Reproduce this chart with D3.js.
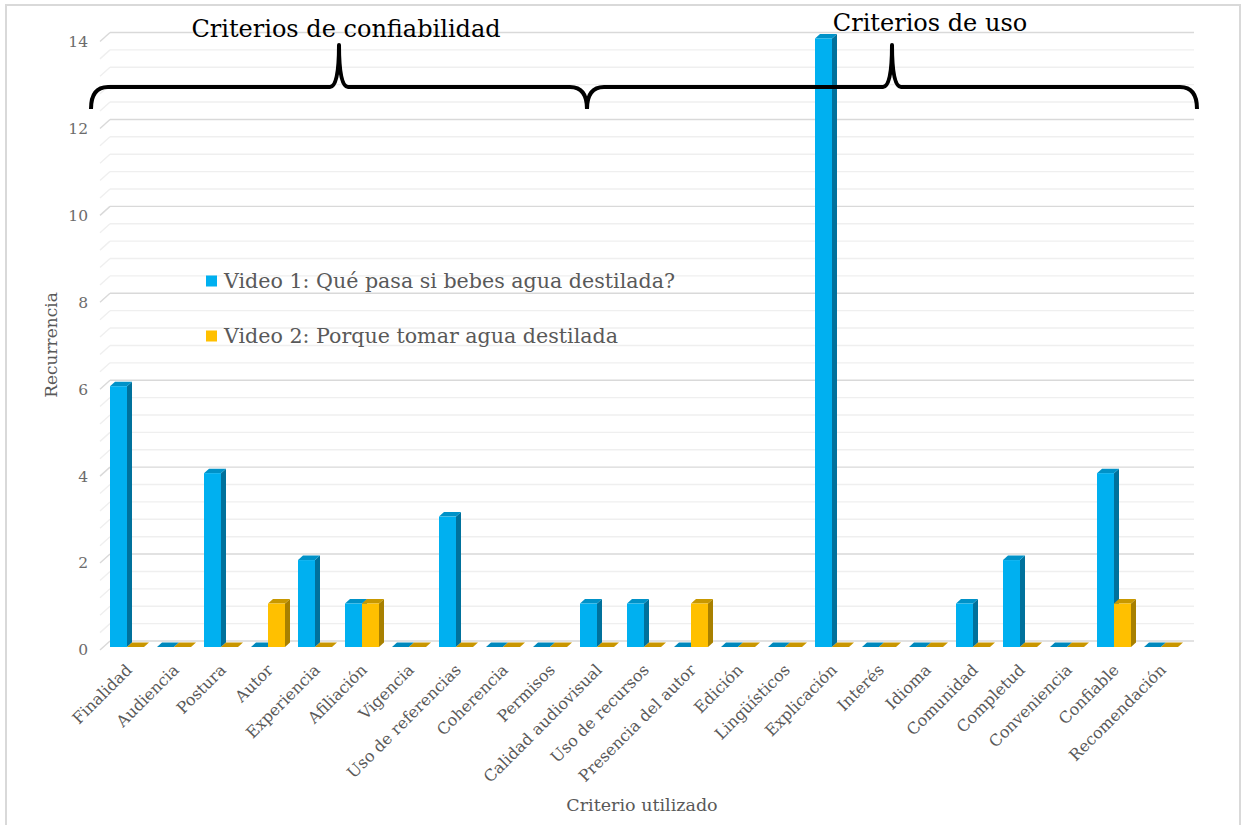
<!DOCTYPE html>
<html>
<head>
<meta charset="utf-8">
<script src="https://cdn.jsdelivr.net/npm/d3@7"></script>
<style>
  html, body { margin: 0; padding: 0; background: #fff; }
  svg { display: block; font-family: "DejaVu Serif", serif; }
</style>
</head>
<body>
<svg id="chart" width="1246" height="825"></svg>
<script>
// Criteria evaluated in each video
const categories = [
  "Finalidad", "Audiencia", "Postura", "Autor", "Experiencia", "Afiliación",
  "Vigencia", "Uso de referencias", "Coherencia", "Permisos",
  "Calidad audiovisual", "Uso de recursos", "Presencia del autor", "Edición",
  "Lingüísticos", "Explicación", "Interés", "Idioma", "Comunidad",
  "Completud", "Conveniencia", "Confiable", "Recomendación"
];
const seriesNames = [
  "Video 1: Qué pasa si bebes agua destilada?",
  "Video 2: Porque tomar agua destilada"
];
const video1 = [6, 0, 4, 0, 2, 1, 0, 3, 0, 0, 1, 1, 0, 0, 0, 14, 0, 0, 1, 2, 0, 4, 0];
const video2 = [0, 0, 0, 1, 0, 1, 0, 0, 0, 0, 0, 0, 1, 0, 0, 0, 0, 0, 0, 0, 0, 1, 0];
const yTicks = [0, 2, 4, 6, 8, 10, 12, 14];
const groups = [
  { label: "Criterios de confiabilidad", from: "Finalidad", to: "Calidad audiovisual" },
  { label: "Criterios de uso", from: "Calidad audiovisual", to: "Recomendación" }
];

const palette = [
  { front: "#00b0f0", side: "#00719c", top: "#0092c8", flat: "#0089bd" },
  { front: "#ffc000", side: "#a88000", top: "#c89800", flat: "#c99600" }
];

const svg = d3.select("#chart");

// frame
svg.append("rect").attr("x", 6).attr("y", 5).attr("width", 1234).attr("height", 830)
  .attr("fill", "none").attr("stroke", "#d9d9d9").attr("stroke-width", 2);

// scales
const x = d3.scaleBand().domain(categories).range([103.5, 1184.5]).padding(0);
const xs = d3.scaleBand().domain([0, 1]).range([6.5, 40.5]).padding(0);
const y = d3.scaleLinear().domain([0, 14]).range([647, 38.5]);

// wall depth (front edge -> back wall)
const wallFront = { x: 100, dy: 3 };
const wallBack = { x: 110, dy: -6, x2: 1194 };
// bar depth
const bdx = 5, bdy = -4.5;

// gridlines every 0.4, darker every 2
const gridVals = d3.range(36).map(i => +(i * 0.4).toFixed(1));
const grid = svg.append("g");
gridVals.forEach((v, i) => {
  const major = i % 5 === 0;
  const col = major ? "#d9d9d9" : "#efefef";
  const yy = y(v);
  grid.append("line")
    .attr("x1", wallFront.x).attr("y1", yy + wallFront.dy)
    .attr("x2", wallBack.x).attr("y2", yy + wallBack.dy)
    .attr("stroke", col).attr("stroke-width", 1.4);
  grid.append("line")
    .attr("x1", wallBack.x).attr("y1", yy + wallBack.dy)
    .attr("x2", wallBack.x2).attr("y2", yy + wallBack.dy)
    .attr("stroke", col).attr("stroke-width", 1.4);
});

// y tick labels
svg.append("g").selectAll("text").data(yTicks).join("text")
  .attr("x", 88).attr("y", d => y(d) + wallFront.dy)
  .attr("dy", "0.35em")
  .attr("text-anchor", "end")
  .attr("fill", "#6b6b6b")
  .attr("font-size", 15.5)
  .text(d => d);

// y axis title
svg.append("text")
  .attr("transform", "translate(57,345) rotate(-90)")
  .attr("text-anchor", "middle")
  .attr("fill", "#595959")
  .attr("font-size", 17)
  .text("Recurrencia");

// 3D bars
const barsG = svg.append("g");
const seriesData = [video1, video2];
categories.forEach((c, ci) => {
  [0, 1].forEach(si => {
    const v = seriesData[si][ci];
    const x0 = x(c) + xs(si);
    const x1 = x0 + xs.bandwidth();
    const yb = y(0);
    const yt = y(v);
    const p = palette[si];
    if (v === 0) {
      barsG.append("path")
        .attr("d", `M${x0},${yb}L${x1},${yb}L${x1 + bdx},${yb + bdy}L${x0 + bdx},${yb + bdy}Z`)
        .attr("fill", p.flat);
      return;
    }
    // side
    barsG.append("path")
      .attr("d", `M${x1},${yt}L${x1 + bdx},${yt + bdy}L${x1 + bdx},${yb + bdy}L${x1},${yb}Z`)
      .attr("fill", p.side);
    // top
    barsG.append("path")
      .attr("d", `M${x0},${yt}L${x1},${yt}L${x1 + bdx},${yt + bdy}L${x0 + bdx},${yt + bdy}Z`)
      .attr("fill", p.top);
    // front
    barsG.append("rect")
      .attr("x", x0).attr("y", yt)
      .attr("width", x1 - x0).attr("height", yb - yt)
      .attr("fill", p.front);
  });
});

// category labels
svg.append("g").selectAll("text").data(categories).join("text")
  .attr("transform", d => `translate(${x(d) + x.bandwidth() / 2 + 2},${667}) rotate(-45)`)
  .attr("dy", "0.35em")
  .attr("text-anchor", "end")
  .attr("fill", "#595959")
  .attr("font-size", 16)
  .text(d => d);

// x axis title
svg.append("text")
  .attr("x", 642).attr("y", 811)
  .attr("text-anchor", "middle")
  .attr("fill", "#595959")
  .attr("font-size", 17.5)
  .text("Criterio utilizado");

// legend
const legend = svg.append("g");
seriesNames.forEach((n, i) => {
  const ly = 281 + i * 55;
  legend.append("rect")
    .attr("x", 206).attr("y", ly - 5.5).attr("width", 11).attr("height", 11)
    .attr("fill", palette[i].front);
  legend.append("text")
    .attr("x", 224).attr("y", ly).attr("dy", "0.35em")
    .attr("fill", "#595959")
    .attr("font-size", 20.6)
    .text(n);
});

// group braces with titles
const braceY = 87, braceTip = 45, braceEnd = 109;
const bracesG = svg.append("g");
const braceStarts = [91, 587];
const braceEnds = [587, 1197];
groups.forEach((g, i) => {
  const a = braceStarts[i], b = braceEnds[i];
  const m = (a + b) / 2;
  const r = 17;
  const d = `M${a},${braceEnd}Q${a},${braceY} ${a + r},${braceY}` +
    `L${m - 9},${braceY}Q${m},${braceY} ${m},${braceTip}` +
    `Q${m},${braceY} ${m + 9},${braceY}` +
    `L${b - r},${braceY}Q${b},${braceY} ${b},${braceEnd}`;
  bracesG.append("path").attr("d", d)
    .attr("fill", "none").attr("stroke", "#000").attr("stroke-width", 4)
    .attr("stroke-linejoin", "round");
  bracesG.append("text")
    .attr("x", i === 0 ? 346 : 930)
    .attr("y", i === 0 ? 37 : 31)
    .attr("text-anchor", "middle")
    .attr("fill", "#000")
    .attr("font-size", 24)
    .text(g.label);
});
</script>
</body>
</html>
